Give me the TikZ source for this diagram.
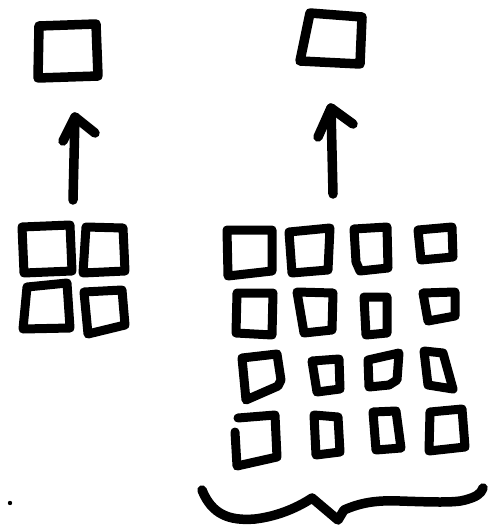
\documentclass[tikz,border=0pt]{standalone}
\begin{document}
\begin{tikzpicture}[x=1pt,y=-1pt,
  ink/.style={line width=9.5pt, line cap=round, line join=round, black},
  thinink/.style={line width=9pt, line cap=round, line join=round, black}]
\useasboundingbox (0,0) rectangle (487,532);
\fill[white] (0,0) rectangle (487,532);

% single squares on top
\draw[ink] (39,26) -- (96,24) -- (98,76) -- (38,78) -- cycle;
\draw[ink] (310,13) -- (362,17) -- (360,64) -- (300,61) -- cycle;

% arrows pointing up to them
\coordinate (la0) at (73,200); \coordinate (la1) at (75,117);
\draw[ink] (la0) -- (la1);
\draw[ink] (63,141) -- (la1) -- (95,133);
\coordinate (ra0) at (333,194); \coordinate (ra1) at (331,108);
\draw[ink] (ra0) -- (ra1);
\draw[ink] (318,137) -- (ra1) -- (353,124);

% 2x2 block
\draw[thinink] (22,227) -- (70,225) -- (72,271) -- (24,273) -- cycle;
\draw[thinink] (86,227) -- (123,228) -- (125,271) -- (83,273) -- cycle;
\draw[thinink] (27,287) -- (67,283) -- (70,328) -- (23,329) -- cycle;
\draw[thinink] (84,292) -- (122,290) -- (125,325) -- (88,334) -- cycle;

% 4x4 block, row 1
\draw[thinink] (227,230) -- (272,230) -- (272,271) -- (228,276) -- cycle;
\draw[thinink] (289,232) -- (330,228) -- (328,270) -- (292,273) -- cycle;
\draw[thinink] (354,229) -- (387,227) -- (388,268) -- (360,271) -- (356,262) -- cycle;
\draw[thinink] (418,230) -- (452,227) -- (453,257) -- (421,260) -- cycle;
% row 2
\draw[thinink] (237,293) -- (273,293) -- (272,335) -- (236,333) -- cycle;
\draw[thinink] (297,292) -- (333,293) -- (332,330) -- (304,333) -- cycle;
\draw[thinink] (364,297) -- (387,297) -- (387,333) -- (366,335) -- cycle;
\draw[thinink] (423,293) -- (455,292) -- (455,316) -- (428,321) -- cycle;
% row 3
\draw[thinink] (242,358) -- (277,354) -- (281,380) -- (278,386) -- (246,400) -- cycle;
\draw[thinink] (312,361) -- (339,359) -- (340,389) -- (317,392) -- cycle;
\draw[thinink] (368,360) -- (399,353) -- (397,380) -- (389,385) -- (369,387) -- cycle;
\draw[thinink] (424,351) -- (443,353) -- (453,389) -- (428,385) -- cycle;
% row 4
\draw[thinink] (235,432) -- (237,466) -- (277,457) -- (275,415) -- (238,418);
\draw[thinink] (314,415) -- (338,417) -- (340,452) -- (316,455) -- cycle;
\draw[thinink] (373,412) -- (396,411) -- (401,448) -- (376,450) -- cycle;
\draw[thinink] (430,412) -- (462,409) -- (465,447) -- (429,451) -- cycle;

% brace under the 4x4 block
\coordinate (b0) at (202,490);
\coordinate (b1) at (483,488);
\draw[ink] (b0) .. controls (212,515) and (230,521) .. (255,519)
  .. controls (280,516) and (300,506) .. (312,498)
  -- (338,520) -- (344,510)
  .. controls (360,503) and (375,500) .. (400,501)
  .. controls (430,502) and (455,503) .. (465,500)
  .. controls (476,497) and (481,494) .. (b1);

% stray dot
\fill (10,503) circle (2.2);
\end{tikzpicture}
\end{document}
